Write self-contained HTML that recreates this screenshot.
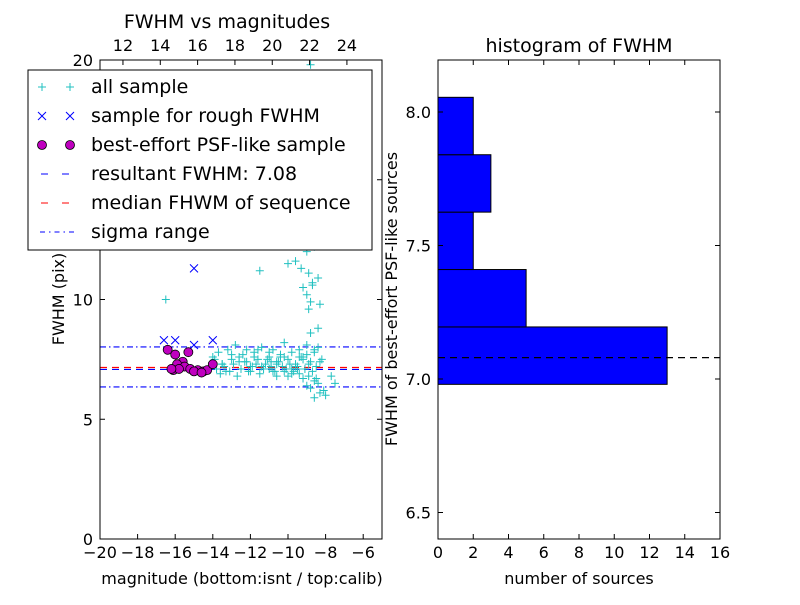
<!DOCTYPE html>
<html><head><meta charset="utf-8"><style>
body{margin:0;background:#fff;font-family:"Liberation Sans","DejaVu Sans",sans-serif;}
svg text{font-family:"DejaVu Sans","Liberation Sans",sans-serif;}
</style></head><body>
<svg id="c" width="800" height="600" xmlns="http://www.w3.org/2000/svg"></svg>
<script>
// ---- data ----
const allMag=[-16.5,-11.5,-10.0,-9.6,-9.2,-9.0,-8.9,-8.8,-8.7,-8.6,-8.5,-8.4,-9.1,-8.9,-8.7,-8.6,-8.8,-8.5,-8.3,-8.7,-9.0,-8.9,-8.6,-9.3,-8.8,-8.4,
-14.0,-13.7,-13.5,-13.2,-13.0,-12.8,-12.6,-12.4,-12.2,-12.0,-11.8,-11.6,-11.4,-11.2,-11.0,-10.8,-10.6,-10.4,-10.2,-10.0,-9.8,-9.6,-9.4,-9.2,-9.0,-8.8,-8.6,-8.4,-8.2,
-13.8,-13.4,-13.1,-12.9,-12.5,-12.3,-12.1,-11.9,-11.7,-11.3,-11.1,-10.9,-10.7,-10.5,-10.3,-10.1,-9.9,-9.7,-9.5,-9.3,-9.1,-8.9,-8.7,-8.5,-8.3,
-13.6,-13.3,-12.7,-12.0,-11.5,-11.0,-10.6,-10.2,-9.8,-9.5,-9.2,-8.9,-8.6,-8.4,-8.1,-7.7,-7.5,-8.0,-8.6,-8.8,-8.3,-8.5,-9.0,-9.4,-10.0,-10.8,
-13.9,-13.5,-13.0,-12.6,-12.2,-11.8,-11.4,-11.0,-10.6,-10.2,-9.8,-9.4,-9.0,-8.6,-8.8,-9.2,-9.6,-10.4,-10.9,-11.6];
const allFwhm=[10.0,11.2,11.5,11.6,10.5,10.2,9.6,9.9,10.6,12.2,13.1,8.8,14.0,15.3,16.3,18.6,19.8,12.5,9.8,10.7,12.0,11.1,13.4,11.3,16.6,10.9,
7.6,7.8,7.3,7.9,7.5,8.1,7.4,7.7,7.9,7.2,7.8,7.5,8.0,7.3,7.6,7.9,7.4,7.7,8.2,7.5,7.8,7.3,7.9,7.6,8.1,7.4,7.8,8.0,7.5,
7.1,7.2,7.0,7.3,7.1,7.4,7.0,7.2,7.3,7.1,7.5,7.2,7.0,7.4,7.2,7.1,7.3,7.0,7.2,7.6,7.1,7.3,7.0,7.2,7.4,
6.9,7.0,6.8,7.0,6.9,7.1,6.8,7.0,6.9,7.1,6.7,6.8,6.6,6.5,6.2,6.8,6.5,6.0,5.9,6.3,6.1,6.7,6.4,6.9,6.8,7.0,
7.5,7.3,7.7,7.6,7.4,7.6,7.2,7.8,7.3,7.6,7.1,7.6,7.7,7.9,8.6,7.5,7.2,7.6,7.4,7.9];
const roughMag=[-16.6,-16.0,-15.0,-14.0,-15.0];
const roughFwhm=[8.3,8.3,8.1,8.3,11.3];
const bestMag=[-16.4,-16.0,-15.3,-15.6,-15.9,-15.5,-16.1,-15.8,-15.2,-14.8,-14.5,-14.3,-14.0,-15.0,-16.2,-14.6];
const bestFwhm=[7.9,7.7,7.8,7.4,7.3,7.2,7.05,7.1,7.1,7.05,7.0,7.05,7.3,7.0,7.1,6.95];
const resultFwhm=7.08, medianFwhm=7.16, sigmaHi=8.02, sigmaLo=6.35;
const binEdges=[6.98,7.195,7.41,7.625,7.84,8.055];
const binCounts=[13,5,2,3,2];
const xTicksL=[-20,-18,-16,-14,-12,-10,-8,-6];
const yTicksL=[0,5,10,15,20];
const topTicks=[12,14,16,18,20,22,24];
const xTicksR=[0,2,4,6,8,10,12,14,16];
const yTicksR=[6.5,7.0,7.5,8.0];

const S=document.getElementById('c'),NS='http://www.w3.org/2000/svg';
function el(t,a,p){const e=document.createElementNS(NS,t);for(const k in a)e.setAttribute(k,a[k]);(p||S).appendChild(e);return e;}
function tx(s,x,y,anchor,size,p){const e=el('text',{x:x,y:y,'text-anchor':anchor,'font-size':size||16},p);e.textContent=s;return e;}
const L={x0:100,x1:382,y0:60,y1:539};
const xL=v=>L.x0+(v+20)/15*(L.x1-L.x0);
const yL=v=>L.y1-v/20*(L.y1-L.y0);
const xT=v=>L.x0+(v-10.77)/15.11*(L.x1-L.x0);
const gL=el('g',{});
el('defs',{}).innerHTML='<clipPath id="cl"><rect x="100" y="60" width="282" height="479"/></clipPath><clipPath id="cr"><rect x="438" y="60" width="282" height="479"/></clipPath>';
const dl=el('g',{'clip-path':'url(#cl)'},gL);
function hline(v,color,dash,name){const e=el('line',{x1:L.x0,x2:L.x1,y1:yL(v),y2:yL(v),stroke:color,'stroke-width':1.2,'stroke-dasharray':dash},dl);}
hline(sigmaHi,'#00f','6 3 1.5 3','sigma-upper-line');
hline(sigmaLo,'#00f','6 3 1.5 3','sigma-lower-line');
hline(medianFwhm,'#f00','7 5','median-fwhm-line');
hline(resultFwhm,'#00f','7 5','resultant-fwhm-line');
allMag.forEach((m,i)=>{const x=xL(m),y=yL(allFwhm[i]);const p=el('path',{d:`M${x-4} ${y}H${x+4}M${x} ${y-4}V${y+4}`,stroke:'#20c0c0','stroke-width':1,fill:'none'},dl);});
roughMag.forEach((m,i)=>{const x=xL(m),y=yL(roughFwhm[i]);const p=el('path',{d:`M${x-4} ${y-4}L${x+4} ${y+4}M${x-4} ${y+4}L${x+4} ${y-4}`,stroke:'#00f','stroke-width':1,fill:'none'},dl);});
bestMag.forEach((m,i)=>{const c=el('circle',{cx:xL(m),cy:yL(bestFwhm[i]),r:4.5,fill:'#bf00bf',stroke:'#000','stroke-width':0.8},dl);});
el('rect',{x:L.x0,y:L.y0,width:L.x1-L.x0,height:L.y1-L.y0,fill:'none',stroke:'#000','stroke-width':1},gL);
xTicksL.forEach(v=>{const x=xL(v);el('line',{x1:x,x2:x,y1:L.y1,y2:L.y1-5,stroke:'#000'},gL);tx((v<0?'\u2212'+(-v):v),x,558,'middle',16,gL);});
topTicks.forEach(v=>{const x=xT(v);el('line',{x1:x,x2:x,y1:L.y0,y2:L.y0+5,stroke:'#000'},gL);tx(v,x,51,'middle',16,gL);});
yTicksL.forEach(v=>{const y=yL(v);el('line',{x1:L.x0,x2:L.x0+5,y1:y,y2:y,stroke:'#000'},gL);el('line',{x1:L.x1,x2:L.x1-5,y1:y,y2:y,stroke:'#000'},gL);tx(v,93,y+6,'end',16,gL);});
tx('FWHM vs magnitudes',227,28,'middle',19,gL);
tx('magnitude (bottom:isnt / top:calib)',242,584,'middle',16,gL);
const yt=tx('FWHM (pix)',0,0,'middle',16,gL);yt.setAttribute('transform','translate(64,299) rotate(-90)');
const lg=el('g',{},gL);
el('rect',{x:28,y:70,width:344,height:180,fill:'#fff',stroke:'#000'},lg);
const items=[['all sample','plus'],['sample for rough FWHM','x'],['best-effort PSF-like sample','o'],['resultant FWHM: 7.08','bd'],['median FHWM of sequence','rd'],['sigma range','dd']];
items.forEach((it,i)=>{const y=87+i*29;const g=el('g',{},lg);
 [42,70].forEach(x=>{if(it[1]=='plus')el('path',{d:`M${x-4} ${y}H${x+4}M${x} ${y-4}V${y+4}`,stroke:'#20c0c0',fill:'none'},g);
 if(it[1]=='x')el('path',{d:`M${x-4} ${y-4}L${x+4} ${y+4}M${x-4} ${y+4}L${x+4} ${y-4}`,stroke:'#00f',fill:'none'},g);
 if(it[1]=='o')el('circle',{cx:x,cy:y,r:4.5,fill:'#bf00bf',stroke:'#000','stroke-width':0.8},g);});
 if(it[1]=='bd')el('line',{x1:40,x2:76,y1:y,y2:y,stroke:'#00f','stroke-dasharray':'7 14','stroke-dashoffset':-1},g);
 if(it[1]=='rd')el('line',{x1:40,x2:76,y1:y,y2:y,stroke:'#f00','stroke-dasharray':'7 14','stroke-dashoffset':-1},g);
 if(it[1]=='dd')el('line',{x1:40,x2:76,y1:y,y2:y,stroke:'#00f','stroke-dasharray':'5 4 1.5 4'},g);
 tx(it[0],91,y+6,'start',19,g);});
const R={x0:438,x1:720,y0:60,y1:539};
const xR=v=>R.x0+v/16*(R.x1-R.x0);
const yR=v=>379-(v-7.0)*267;
const gR=el('g',{});
const dr=el('g',{'clip-path':'url(#cr)'},gR);
binCounts.forEach((c,i)=>{const y1=yR(binEdges[i]),y2=yR(binEdges[i+1]);const r=el('rect',{x:R.x0,y:y2,width:xR(c)-R.x0,height:y1-y2,fill:'#00f',stroke:'#000','stroke-width':1},dr);});
const rl=el('line',{x1:R.x0,x2:R.x1,y1:yR(resultFwhm),y2:yR(resultFwhm),stroke:'#000','stroke-dasharray':'7 5','stroke-width':1.2},dr);
el('rect',{x:R.x0,y:R.y0,width:R.x1-R.x0,height:R.y1-R.y0,fill:'none',stroke:'#000'},gR);
xTicksR.forEach(v=>{const x=xR(v);el('line',{x1:x,x2:x,y1:R.y1,y2:R.y1-5,stroke:'#000'},gR);el('line',{x1:x,x2:x,y1:R.y0,y2:R.y0+5,stroke:'#000'},gR);tx(v,x,558,'middle',16,gR);});
yTicksR.forEach(v=>{const y=yR(v);el('line',{x1:R.x0,x2:R.x0+5,y1:y,y2:y,stroke:'#000'},gR);el('line',{x1:R.x1,x2:R.x1-5,y1:y,y2:y,stroke:'#000'},gR);tx(v.toFixed(1),431,y+6,'end',16,gR);});
tx('histogram of FWHM',579,52,'middle',19,gR);
tx('number of sources',579,584,'middle',16,gR);
const yr=tx('FWHM of best-effort PSF-like sources',0,0,'middle',16,gR);yr.setAttribute('transform','translate(397,299) rotate(-90)');
</script>
</body></html>
